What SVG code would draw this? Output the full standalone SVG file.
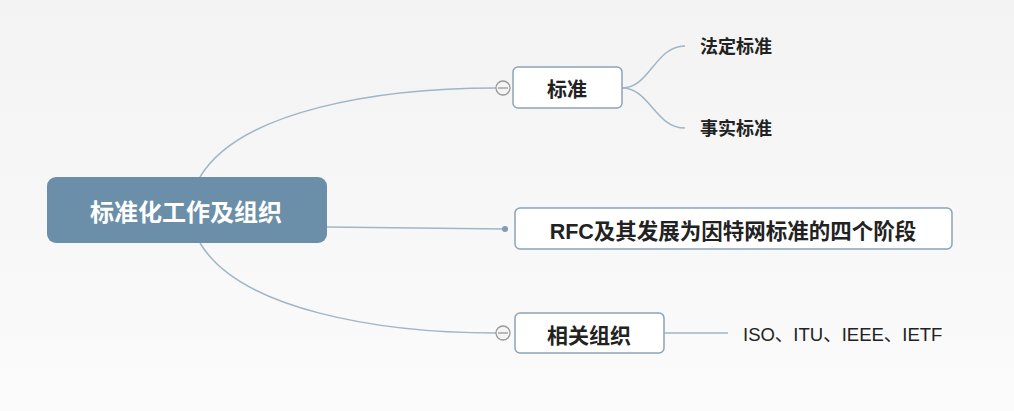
<svg xmlns="http://www.w3.org/2000/svg" width="1014" height="411" viewBox="0 0 1014 411">
<defs>
<linearGradient id="bg" x1="0" y1="0" x2="0" y2="1">
<stop offset="0" stop-color="#f3f3f3"/>
<stop offset="1" stop-color="#fbfbfb"/>
</linearGradient>
</defs>
<style>
.line{fill:none;stroke:#9fb6c6;stroke-width:1.5}
.box{fill:#ffffff;stroke:#8aa4b8;stroke-width:1.5}
.t{font-family:"Liberation Sans","Noto Sans CJK SC",sans-serif;font-weight:bold;fill:#222}
.tog{fill:#f4f4f4;stroke:#999;stroke-width:1.3}
</style>
<rect width="1014" height="411" fill="url(#bg)"/>
<g id="connectors">
<path class="line" d="M200,177 C240,110 380,88 496,88"/>
<path class="line" d="M200,243 C240,310 380,333 496,333"/>
<path class="line" d="M327,227 L505,229"/>
<path class="line" d="M622,88 C650,88 655,46 685,46"/>
<path class="line" d="M622,88 C650,88 655,128 685,128"/>
<path class="line" d="M664,333 L728,333"/>
<circle cx="505" cy="229" r="3" fill="#7f9db3"/>
</g>
<g id="central">
<rect x="47" y="177" width="280" height="66" rx="9" fill="#6b8fa8"/>
<text x="186" y="221" text-anchor="middle" font-size="24" font-family="Liberation Sans,Noto Sans CJK SC,sans-serif" font-weight="bold" fill="#ffffff">标准化工作及组织</text>
</g>
<g id="biaozhun">
<rect class="box" x="513" y="67" width="109" height="41" rx="5"/>
<text class="t" x="567" y="97" text-anchor="middle" font-size="20">标准</text>
<circle class="tog" cx="503" cy="88" r="7"/>
<line x1="498" y1="88" x2="508" y2="88" stroke="#999" stroke-width="1.3"/>
</g>
<g id="fading">
<text class="t" x="700" y="53" font-size="18">法定标准</text>
</g>
<g id="shishi">
<text class="t" x="700" y="135" font-size="18">事实标准</text>
</g>
<g id="rfc">
<rect class="box" x="515" y="208" width="437" height="41" rx="5"/>
<text class="t" x="733" y="239" text-anchor="middle" font-size="21.5">RFC及其发展为因特网标准的四个阶段</text>
</g>
<g id="xiangguan">
<rect class="box" x="515" y="313" width="149" height="40" rx="5"/>
<text class="t" x="589" y="343" text-anchor="middle" font-size="21">相关组织</text>
<circle class="tog" cx="503" cy="333" r="7"/>
<line x1="498" y1="333" x2="508" y2="333" stroke="#999" stroke-width="1.3"/>
</g>
<g id="orgs">
<text x="743" y="341" font-size="18.5" font-family="Liberation Sans,Noto Sans CJK SC,sans-serif" fill="#222">ISO、ITU、IEEE、IETF</text>
</g>
</svg>
